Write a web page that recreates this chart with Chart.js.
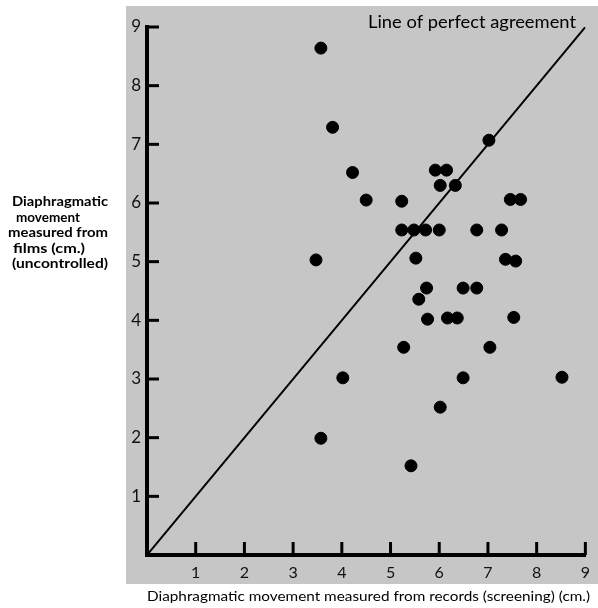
<!DOCTYPE html>
<html>
<head>
<meta charset="utf-8">
<script src="https://cdn.jsdelivr.net/npm/chart.js@4"></script>
<style>
  body { margin: 0; background: #fff; }
</style>
</head>
<body>
<canvas id="myChart" width="598" height="608"></canvas>
<script>
// screening (x) vs films (y), cm
const screening = [
    3.57, 3.81, 4.22, 4.50, 3.47, 5.23, 5.92, 6.15, 6.02, 6.33,
    7.02, 5.23, 5.48, 5.72, 6.00, 6.77, 7.28, 7.46, 7.67, 5.52,
    7.36, 7.57, 5.74, 5.58, 6.49, 6.77, 5.76, 6.17, 6.37, 7.53,
    5.27, 7.04, 4.02, 6.49, 8.52, 6.02, 3.57, 5.42,
];
const films = [
    8.64, 7.29, 6.52, 6.05, 5.03, 6.03, 6.56, 6.56, 6.30, 6.30,
    7.07, 5.54, 5.54, 5.54, 5.54, 5.54, 5.54, 6.06, 6.06, 5.06,
    5.04, 5.01, 4.55, 4.36, 4.55, 4.55, 4.02, 4.04, 4.04, 4.05,
    3.54, 3.54, 3.02, 3.02, 3.03, 2.52, 1.99, 1.52,
];
const agreement = [0, 9];
const tickValues = [1, 2, 3, 4, 5, 6, 7, 8, 9];

const yTitle = ['Diaphragmatic', 'movement', 'measured from', 'films (cm.)', '(uncontrolled)'];
const xTitle = 'Diaphragmatic movement measured from records (screening) (cm.)';
const lineLabel = 'Line of perfect agreement';

const points = screening.map((x, i) => ({ x: x, y: films[i] }));
const lineData = agreement.map(v => ({ x: v, y: v }));

const FONT = 'Lato, "Open Sans", sans-serif';

// fits text to a given pixel width
function fitText(ctx, text, x, y, w) {
    const m = ctx.measureText(text).width;
    ctx.save();
    ctx.translate(x, y);
    ctx.scale(w / m, 1);
    ctx.fillText(text, 0, 0);
    ctx.restore();
}

const paper = {
    id: 'paper',
    beforeDraw(chart) {
        const ctx = chart.ctx;
        ctx.save();
        ctx.fillStyle = 'rgb(198,198,198)';
        ctx.fillRect(126, 6, 472, 578);
        ctx.restore();
    },
    afterDatasetsDraw(chart) {
        const ctx = chart.ctx;
        const xs = chart.scales.x, ys = chart.scales.y;
        const x0 = xs.getPixelForValue(0), y0 = ys.getPixelForValue(0);
        ctx.save();
        ctx.strokeStyle = '#000';
        ctx.lineWidth = 3;
        tickValues.forEach(v => {
            const px = xs.getPixelForValue(v);
            ctx.beginPath();
            ctx.moveTo(px, y0);
            ctx.lineTo(px, y0 - 13);
            ctx.stroke();
            const py = ys.getPixelForValue(v);
            ctx.beginPath();
            ctx.moveTo(x0, py);
            ctx.lineTo(x0 + 12, py);
            ctx.stroke();
        });

        ctx.fillStyle = '#000';
        ctx.textBaseline = 'alphabetic';
        ctx.textAlign = 'left';
        ctx.font = '17px ' + FONT;
        fitText(ctx, lineLabel, 368, 28, 208);

        ctx.font = 'bold 14px ' + FONT;
        const widths = [96, 64, 100, 72, 96];
        const lefts = [12, 16, 8, 13, 12];
        yTitle.forEach((t, i) => {
            fitText(ctx, t, lefts[i], 206 + i * 15.5, widths[i]);
        });

        ctx.font = '14px ' + FONT;
        fitText(ctx, xTitle, 147, 601, 443);
        ctx.restore();
    }
};

const config = {
    type: 'scatter',
    data: {
        datasets: [{
            label: 'Films vs screening',
            data: points,
            backgroundColor: '#000',
            borderColor: '#000',
            pointRadius: 6,
            pointHoverRadius: 6,
        },
        {
            type: 'line',
            label: lineLabel,
            data: lineData,
            borderColor: '#000',
            borderWidth: 2,
            pointRadius: 0,
            fill: false,
        }]
    },
    options: {
        responsive: false,
        animation: false,
        layout: { padding: { left: 127, top: 27, right: 7, bottom: 0 } },
        plugins: { legend: { display: false }, tooltip: { enabled: false } },
        scales: {
            x: {
                type: 'linear', min: 0, max: 9,
                afterFit: s => { s.height = 53; },
                afterBuildTicks: s => { s.ticks = tickValues.map(v => ({ value: v })); },
                grid: { display: false, drawTicks: false },
                border: { display: true, color: '#000', width: 4 },
                ticks: { color: '#111', font: { family: FONT, size: 16 }, padding: 8 },
            },
            y: {
                type: 'linear', min: 0, max: 9,
                afterFit: s => { s.width = 20; },
                afterBuildTicks: s => { s.ticks = tickValues.map(v => ({ value: v })); },
                grid: { display: false, drawTicks: false },
                border: { display: true, color: '#000', width: 4 },
                ticks: { color: '#111', font: { family: FONT, size: 17 }, padding: 6 },
            }
        }
    },
    plugins: [paper]
};

const myChart = new Chart(document.getElementById('myChart'), config);
</script>
</body>
</html>
